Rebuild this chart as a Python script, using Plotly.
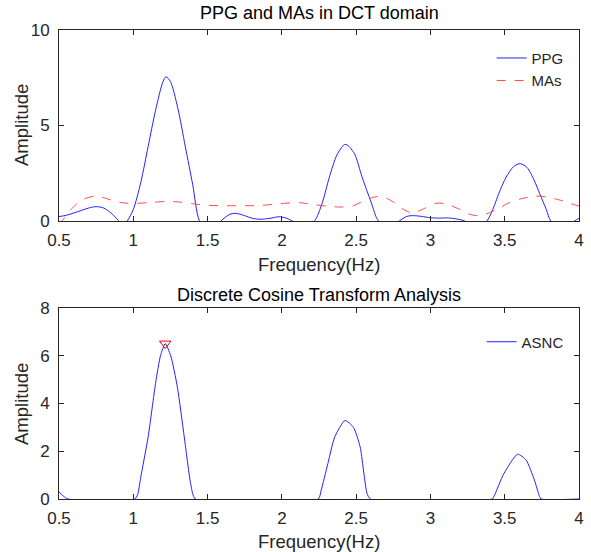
import plotly.graph_objects as go

# ---- data ----
freq_ppg = [0.50, 0.55, 0.60, 0.65, 0.70, 0.75, 0.80, 0.85, 0.90, 0.93, 0.96, 1.00, 1.05, 1.10,
            1.15, 1.20, 1.22, 1.25, 1.30, 1.35, 1.40, 1.445, 1.52, 1.59, 1.65, 1.69, 1.75, 1.80,
            1.86, 1.92, 1.98, 2.03, 2.07, 2.15, 2.22, 2.27, 2.32, 2.37, 2.42, 2.44, 2.49, 2.54,
            2.60, 2.65, 2.72, 2.79, 2.84, 2.88, 2.94, 3.00, 3.06, 3.12, 3.18, 3.23, 3.30, 3.38,
            3.43, 3.46, 3.51, 3.56, 3.605, 3.65, 3.70, 3.735, 3.78, 3.81, 3.89, 3.97, 4.00]
amp_ppg = [0.23, 0.30, 0.42, 0.55, 0.68, 0.75, 0.68, 0.42, 0.02, -0.30, 0.00, 0.60, 2.00, 3.90,
           5.80, 7.30, 7.55, 7.30, 5.90, 3.90, 1.90, 0.00, -0.80, 0.00, 0.35, 0.40, 0.28, 0.14,
           0.09, 0.14, 0.22, 0.15, 0.00, -0.40, 0.00, 0.90, 2.30, 3.45, 4.00, 3.98, 3.50, 2.30,
           1.00, 0.00, -0.30, 0.00, 0.24, 0.28, 0.24, 0.17, 0.15, 0.16, 0.10, 0.00, -0.40, 0.00,
           0.80, 1.44, 2.30, 2.85, 3.00, 2.80, 2.10, 1.44, 0.60, 0.00, -0.40, 0.00, 0.14]

freq_mas = [0.50, 0.53, 0.57, 0.62, 0.67, 0.74, 0.80, 0.87, 0.93, 1.00, 1.10, 1.22, 1.30, 1.40,
            1.50, 1.60, 1.72, 1.85, 1.95, 2.06, 2.12, 2.22, 2.30, 2.40, 2.48, 2.55, 2.64, 2.70,
            2.76, 2.82, 2.88, 2.95, 3.02, 3.06, 3.12, 3.20, 3.26, 3.32, 3.38, 3.45, 3.52, 3.60,
            3.70, 3.78, 3.86, 3.93, 4.00]
amp_mas = [-0.15, 0.10, 0.50, 0.90, 1.15, 1.30, 1.22, 1.05, 0.95, 0.92, 0.96, 1.02, 1.00, 0.90,
           0.82, 0.80, 0.80, 0.81, 0.88, 0.95, 0.96, 0.85, 0.78, 0.73, 0.80, 1.05, 1.28, 1.20,
           0.95, 0.60, 0.42, 0.62, 0.88, 0.94, 0.85, 0.60, 0.36, 0.28, 0.38, 0.62, 0.92, 1.14,
           1.30, 1.26, 1.12, 0.95, 0.78]

freq_asnc = [0.50, 0.53, 0.56, 1.01, 1.03, 1.05, 1.10, 1.15, 1.183, 1.215, 1.252, 1.297, 1.343,
             1.388, 1.418, 2.245, 2.265, 2.31, 2.356, 2.425, 2.482, 2.527, 2.573, 2.596, 3.416,
             3.427, 3.495, 3.587, 3.644, 3.70, 3.735, 3.746, 4.00]
amp_asnc = [0.30, 0.12, 0.00, 0.00, 0.20, 0.90, 2.60, 4.85, 6.00, 6.51, 6.00, 4.68, 2.60,
            0.58, 0.00, 0.00, 0.375, 1.49, 2.60, 3.29, 3.00, 2.18, 0.24, 0.00, 0.00,
            0.10, 1.07, 1.875, 1.63, 0.79, 0.10, 0.00, 0.00]

peak_freq = [1.215]
peak_amp = [6.51]

x_ticks = [0.5, 1, 1.5, 2, 2.5, 3, 3.5, 4]
x_tick_text = ["0.5", "1", "1.5", "2", "2.5", "3", "3.5", "4"]
y1_ticks = [0, 5, 10]
y2_ticks = [0, 2, 4, 6, 8]

FONT = "Arial, Liberation Sans, sans-serif"
AX = "#262626"

fig = go.Figure()
fig.add_trace(go.Scatter(x=freq_ppg, y=amp_ppg, mode="lines", name="PPG",
                         line=dict(color="#2222ff", width=1, shape="spline", smoothing=0.8),
                         xaxis="x", yaxis="y", legend="legend"))
fig.add_trace(go.Scatter(x=freq_mas, y=amp_mas, mode="lines", name="MAs",
                         line=dict(color="#ff4a4a", width=1, dash="dash", shape="spline", smoothing=0.8),
                         xaxis="x", yaxis="y", legend="legend"))
fig.add_trace(go.Scatter(x=freq_asnc, y=amp_asnc, mode="lines", name="ASNC",
                         line=dict(color="#2222ff", width=1, shape="spline", smoothing=0.6),
                         xaxis="x2", yaxis="y2", legend="legend2"))
fig.add_trace(go.Scatter(x=peak_freq, y=peak_amp, mode="markers", showlegend=False,
                         marker=dict(symbol="triangle-down-open", size=10, color="red",
                                     line=dict(width=1, color="red")),
                         xaxis="x2", yaxis="y2"))

axis_common = dict(showline=True, linecolor=AX, linewidth=1, mirror="ticks", ticks="inside",
                   ticklen=5, tickcolor=AX, showgrid=False, zeroline=False,
                   tickfont=dict(family=FONT, size=17, color=AX))

fig.update_layout(
    width=591, height=552,
    margin=dict(l=59, r=12, t=30, b=53, autoexpand=False),
    paper_bgcolor="white", plot_bgcolor="white",
    font=dict(family=FONT, color=AX),
    xaxis=dict(domain=[0, 1], anchor="y", range=[0.5, 4], tickvals=x_ticks, ticktext=x_tick_text,
               ticklabelstandoff=4, **axis_common),
    yaxis=dict(domain=[0.5928, 1], anchor="x", range=[0, 10], tickvals=y1_ticks,
               ticklabelstandoff=5, **axis_common),
    xaxis2=dict(domain=[0, 1], anchor="y2", range=[0.5, 4], tickvals=x_ticks, ticktext=x_tick_text,
                ticklabelstandoff=4, **axis_common),
    yaxis2=dict(domain=[0, 0.4072], anchor="x2", range=[0, 8], tickvals=y2_ticks,
                ticklabelstandoff=5, **axis_common),
    legend=dict(x=0.98, y=0.975, xanchor="right", yanchor="top", bgcolor="rgba(0,0,0,0)",
                font=dict(family=FONT, size=15, color=AX), tracegroupgap=0, itemwidth=30),
    legend2=dict(x=0.98, y=0.37, xanchor="right", yanchor="top", bgcolor="rgba(0,0,0,0)",
                 font=dict(family=FONT, size=15, color=AX), itemwidth=30),
    annotations=[
        dict(text="PPG and MAs in DCT domain", x=0.5, y=(499 - 13) / 469, xref="paper", yref="paper",
             showarrow=False, font=dict(family=FONT, size=18, color="black"), yanchor="middle"),
        dict(text="Discrete Cosine Transform Analysis", x=0.5, y=(499 - 295) / 469, xref="paper", yref="paper",
             showarrow=False, font=dict(family=FONT, size=18, color="black"), yanchor="middle"),
        dict(text="Frequency(Hz)", x=0.5, y=(499 - 264) / 469, xref="paper", yref="paper",
             showarrow=False, font=dict(family=FONT, size=18.5, color=AX), yanchor="middle"),
        dict(text="Frequency(Hz)", x=0.5, y=(499 - 541) / 469, xref="paper", yref="paper",
             showarrow=False, font=dict(family=FONT, size=18.5, color=AX), yanchor="middle"),
        dict(text="Amplitude", x=(21 - 59) / 520, y=(499 - 125) / 469, xref="paper", yref="paper",
             showarrow=False, textangle=-90, font=dict(family=FONT, size=18.5, color=AX),
             xanchor="center", yanchor="middle"),
        dict(text="Amplitude", x=(21 - 59) / 520, y=(499 - 404) / 469, xref="paper", yref="paper",
             showarrow=False, textangle=-90, font=dict(family=FONT, size=18.5, color=AX),
             xanchor="center", yanchor="middle"),
    ],
)

# remove the page's default 8px body margin so the figure fills the window exactly
fig.write_html("out.html", config={"displayModeBar": False},
               post_script="document.body.style.margin='0';")
